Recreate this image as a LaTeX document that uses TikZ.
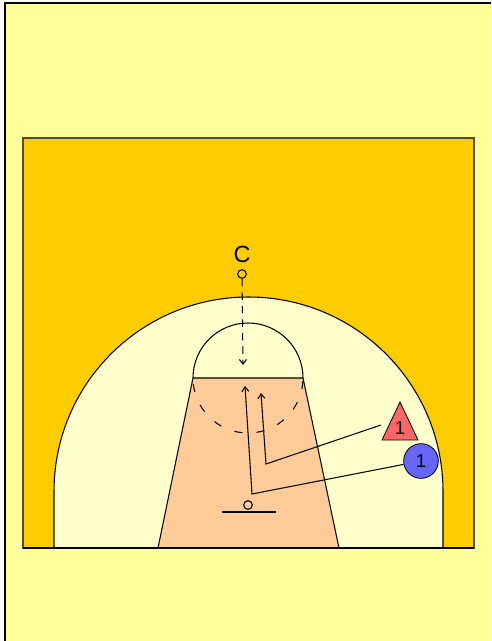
\documentclass[tikz,border=0pt]{standalone}
\usepackage{fontspec}
\setsansfont{Liberation Sans}
\usetikzlibrary{arrows.meta}

\begin{document}
\begin{tikzpicture}[
  x=0.03cm, y=-0.03cm,
  font=\sffamily,
  >={Straight Barb[length=4pt,width=6pt]},
  line/.style={line width=0.9pt},
  cut/.style={line width=0.9pt, ->},
  pass/.style={line width=0.9pt, ->, dash pattern=on 6.5pt off 5pt},
  spot/.style={circle, draw, line width=0.9pt, minimum size=0.26cm, inner sep=0pt},
  offense/.style={circle, draw, line width=0.7pt, fill=c5, minimum size=1.04cm, inner sep=0pt, font=\sffamily\fontsize{16}{16}\selectfont},
  num/.style={inner sep=0pt, font=\sffamily\fontsize{16}{16}\selectfont}
]

\definecolor{c0}{RGB}{255,255,153}
\definecolor{c1}{RGB}{255,204,0}
\definecolor{c2}{RGB}{255,255,204}
\definecolor{c3}{RGB}{255,204,153}
\definecolor{c4}{RGB}{255,102,102}
\definecolor{c5}{RGB}{102,102,255}

\useasboundingbox (0,0) rectangle (491,641);
\fill[c0] (5,3) rectangle (491,641);
\draw[line width=1pt] (5,641) -- (5,3) -- (491,3);

\draw[fill=c1, draw=black!70, line width=0.9pt] (23,138) rectangle (474,548);
\draw[fill=c2, line] (54,548) -- (54,491.5) arc[start angle=180, end angle=360, radius=194.5] -- (443,548);
\draw[fill=c3, line] (158,548) -- (193,378) -- (303,378) -- (339,548);
\draw[line] (23,548) -- (474,548);

\draw[line] (193,378) arc[start angle=180, end angle=360, radius=55];
\draw[line, dash pattern=on 7pt off 12pt, dash phase=-5pt] (193,378) arc[start angle=180, end angle=0, radius=55];

\node[spot] (rim) at (248,505) {};
\draw[line] (222,512) -- (276,512);

\node[font=\sffamily\fontsize{20}{20}\selectfont, inner sep=0pt] (coachlabel) at (242,254) {C};
\node[spot] (coach) at (242,274) {};
\coordinate (catch) at (243,365);
\draw[pass] (coach) -- (catch);

\draw[fill=c4, line width=0.7pt] (382,440) -- (400,402) -- (418,440) -- cycle;
\node[num] (x1) at (400,428) {1};
\node[offense] (o1) at (421,461) {1};

\coordinate (x1cut) at (381,425);
\coordinate (x1turn) at (266,464);
\coordinate (x1end) at (261,393);
\coordinate (o1turn) at (252,494);
\coordinate (o1end) at (245,386);

\draw[cut] (o1) -- (o1turn) -- (o1end);
\draw[cut] (x1cut) -- (x1turn) -- (x1end);

\end{tikzpicture}
\end{document}
